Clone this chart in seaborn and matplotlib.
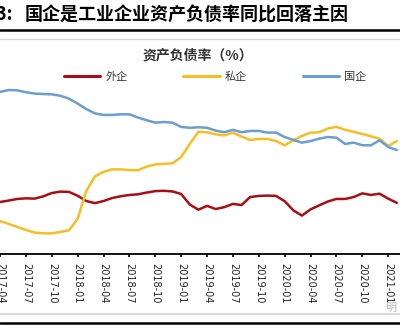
import matplotlib
matplotlib.use('Agg')
import matplotlib.pyplot as plt
import seaborn as sns
import pandas as pd
import numpy as np
from matplotlib.lines import Line2D

# monthly data, 2017-04 .. 2021-02 (asset-liability ratio, %)
months = pd.period_range('2017-04', '2021-02', freq='M').strftime('%Y-%m').tolist()

foreign = [53.50, 53.59, 53.69, 53.73, 53.71, 53.85, 54.06, 54.15, 54.13, 53.89,
           53.56, 53.43, 53.56, 53.75, 53.86, 53.94, 53.98, 54.09, 54.18, 54.20,
           54.16, 54.00, 53.34, 53.02, 53.26, 53.06, 53.18, 53.38, 53.31, 53.81,
           53.88, 53.90, 53.88, 53.55, 52.98, 52.65, 53.04, 53.29, 53.53, 53.69,
           53.69, 53.81, 54.04, 53.94, 54.02, 53.71, 53.45]
private = [52.31, 52.13, 51.94, 51.75, 51.59, 51.54, 51.54, 51.63, 51.73, 52.46,
           54.19, 55.10, 55.38, 55.54, 55.54, 55.49, 55.49, 55.71, 55.85, 55.88,
           55.92, 56.31, 57.13, 57.89, 57.86, 57.73, 57.66, 57.83, 57.59, 57.38,
           57.44, 57.44, 57.31, 57.04, 57.36, 57.63, 57.83, 57.86, 58.09, 58.20,
           58.01, 57.89, 57.75, 57.61, 57.45, 57.00, 57.31]
state = [60.38, 60.50, 60.48, 60.36, 60.28, 60.25, 60.23, 60.14, 59.96, 59.65,
         59.31, 59.04, 58.94, 58.94, 58.98, 58.98, 58.78, 58.61, 58.46, 58.50,
         58.46, 58.19, 58.14, 58.17, 58.14, 57.96, 57.86, 58.01, 57.86, 57.94,
         57.94, 57.84, 57.84, 57.56, 57.38, 57.21, 57.31, 57.46, 57.56, 57.52,
         57.13, 57.21, 57.05, 57.04, 57.36, 56.94, 56.75]

series_names = ['外企', '私企', '国企']
colors = ['#A50F15', '#F5BE25', '#6A9ED0']

df = pd.DataFrame({'month': months, '外企': foreign, '私企': private, '国企': state})
df['idx'] = np.arange(len(df))
long = df.melt(id_vars=['month', 'idx'], value_vars=series_names,
               var_name='series', value_name='ratio')

sns.set_style('white')
plt.rcParams['font.family'] = ['Noto Sans CJK SC', 'DejaVu Sans']

W, H = 400, 330
fig = plt.figure(figsize=(4, 3.3), dpi=100)
ax = fig.add_axes([0, 1 - 254 / H, 1, (254 - 84) / H])

sns.lineplot(data=long, x='idx', y='ratio', hue='series', hue_order=series_names,
             palette=colors, linewidth=1.8, legend=False, ax=ax)

ax.set_xlim(0.23, 46.37)
ax.set_ylim(50.25, 60.875)
ticks = list(range(0, len(months), 3))
ax.set_xticks(ticks)
ax.set_xticklabels([months[i] for i in ticks], rotation=-90, fontsize=7,
                   color='#222222', family=['DejaVu Sans'])
ax.set_yticks([])
ax.set_xlabel('')
ax.set_ylabel('')
for s in ['left', 'right', 'top']:
    ax.spines[s].set_visible(False)
ax.spines['bottom'].set_color('black')
ax.spines['bottom'].set_linewidth(1.3)
ax.tick_params(axis='x', direction='out', length=2.5, width=1.2, color='black',
               pad=4, bottom=True)

# titles (left part cut off, as in the source crop)
fig.text(25 / W, 1 - 15 / H, '国企是工业企业资产负债率同比回落主因', fontsize=13,
         fontweight='bold', ha='left', va='center', color='black')
fig.text(13 / W, 1 - 15 / H, '图3:', fontsize=13, fontweight='bold',
         ha='right', va='center', color='black')
fig.text(198 / W, 1 - 56 / H, '资产负债率（%）', fontsize=10, fontweight='bold',
         ha='center', va='center', color='#333333')

# frame lines
fig.add_artist(Line2D([0, 1], [1 - 30 / H, 1 - 30 / H], color='black', linewidth=1.8))
fig.add_artist(Line2D([0, 1], [1 - 39 / H, 1 - 39 / H], color='#d9d9d9', linewidth=1.0))
fig.add_artist(Line2D([0, 1], [1 - 314 / H, 1 - 314 / H], color='#d9d9d9', linewidth=1.5))
fig.add_artist(Line2D([0, 1], [1 - 323 / H, 1 - 323 / H], color='black', linewidth=1.8))

# legend
handles = [Line2D([0], [0], color=c, linewidth=2.2) for c in colors]
fig.legend(handles, series_names, loc='center', bbox_to_anchor=(215 / W, 1 - 76.5 / H),
           ncol=3, frameon=False, fontsize=8, handlelength=3.3, handletextpad=0.45,
           columnspacing=5.0, labelcolor='#333333')

# watermark
fig.text(391 / W, 1 - 308 / H, '明', fontsize=8, color='#b8b8b8', ha='center', va='center')

fig.savefig('out.png', dpi=100)
